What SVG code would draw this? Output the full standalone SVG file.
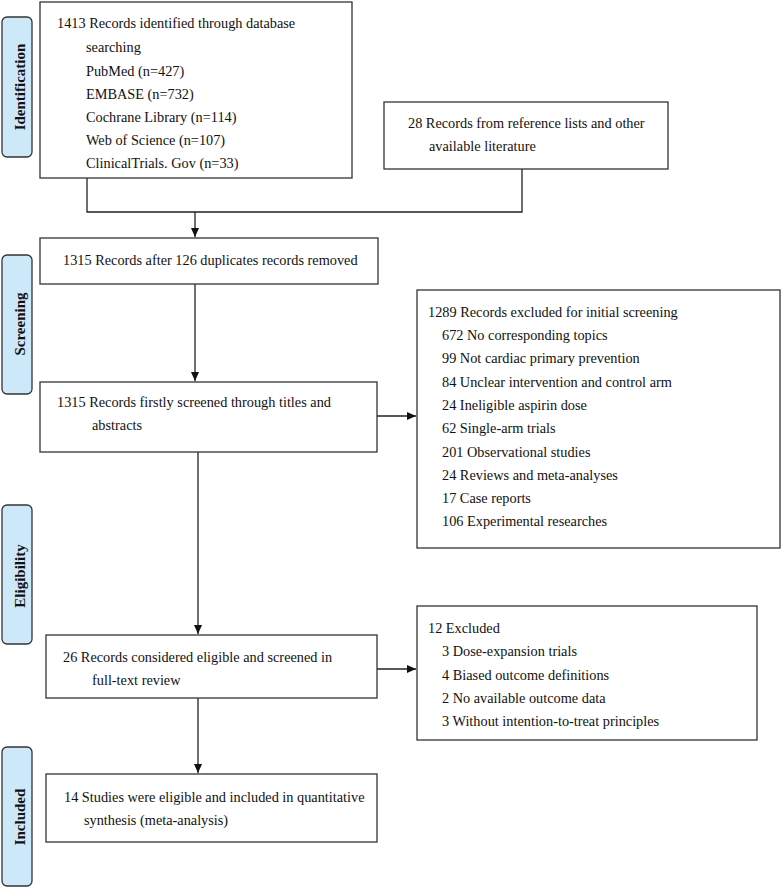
<svg xmlns="http://www.w3.org/2000/svg" width="782" height="888" viewBox="0 0 782 888">
<style>
.box{fill:#fff;stroke:#333;stroke-width:1.3}
.pill{fill:#cde8f8;stroke:#333;stroke-width:1.3}
text{font-family:'Liberation Serif','Times New Roman','DejaVu Serif',serif;font-size:14.3px;fill:#111}
.lab{font-weight:bold;font-size:15px}
.ln{fill:none;stroke:#222;stroke-width:1.3}
</style>
<defs>
<marker id="ah" markerWidth="10" markerHeight="8" refX="9" refY="4" orient="auto" markerUnits="userSpaceOnUse">
<path d="M0,0 L9,4 L0,8 Z" fill="#111"/>
</marker>
</defs>
<rect width="782" height="888" fill="#fff"/>
<g id="stage-identification"><rect class="pill" x="2" y="17" width="30" height="140" rx="5"/><text class="lab" transform="translate(25,87) rotate(-90)" text-anchor="middle">Identification</text></g>
<g id="stage-screening"><rect class="pill" x="2" y="255" width="30" height="139" rx="5"/><text class="lab" transform="translate(25,324) rotate(-90)" text-anchor="middle">Screening</text></g>
<g id="stage-eligibility"><rect class="pill" x="2" y="505" width="30" height="139" rx="5"/><text class="lab" transform="translate(25,576) rotate(-90)" text-anchor="middle">Eligibility</text></g>
<g id="stage-included"><rect class="pill" x="2" y="747" width="30" height="139" rx="5"/><text class="lab" transform="translate(25,817) rotate(-90)" text-anchor="middle">Included</text></g>

<g id="connectors">
<path class="ln" d="M87,178 V212 H522 V169"/>
<path class="ln" d="M195,212 V237" marker-end="url(#ah)"/>
<path class="ln" d="M195,284 V381" marker-end="url(#ah)"/>
<path class="ln" d="M377,416 H416" marker-end="url(#ah)"/>
<path class="ln" d="M198,452 V634" marker-end="url(#ah)"/>
<path class="ln" d="M377,669 H416" marker-end="url(#ah)"/>
<path class="ln" d="M198,698 V773" marker-end="url(#ah)"/>
</g>

<g id="n-database">
<rect class="box" x="40" y="2" width="312" height="176"/>
<text x="57" y="28">1413 Records identified through database</text>
<text x="86" y="52">searching</text>
<text x="86" y="76">PubMed (n=427)</text>
<text x="86" y="99">EMBASE (n=732)</text>
<text x="86" y="122">Cochrane Library (n=114)</text>
<text x="86" y="145">Web of Science (n=107)</text>
<text x="86" y="168">ClinicalTrials. Gov (n=33)</text>
</g>
<g id="n-reference">
<rect class="box" x="384" y="102" width="284" height="67"/>
<text x="408" y="128">28 Records from reference lists and other</text>
<text x="429" y="151">available literature</text>
</g>
<g id="n-dedup">
<rect class="box" x="40" y="238" width="338" height="46"/>
<text x="63" y="265">1315 Records after 126 duplicates records removed</text>
</g>
<g id="n-screened">
<rect class="box" x="40" y="382" width="337" height="70"/>
<text x="57" y="407">1315 Records firstly screened through titles and</text>
<text x="92" y="430">abstracts</text>
</g>
<g id="n-excluded1">
<rect class="box" x="417" y="290" width="363" height="258"/>
<text x="428" y="317">1289 Records excluded for initial screening</text>
<text x="442" y="340">672 No corresponding topics</text>
<text x="442" y="363">99 Not cardiac primary prevention</text>
<text x="442" y="387">84 Unclear intervention and control arm</text>
<text x="442" y="410">24 Ineligible aspirin dose</text>
<text x="442" y="433">62 Single-arm trials</text>
<text x="442" y="457">201 Observational studies</text>
<text x="442" y="480">24 Reviews and meta-analyses</text>
<text x="442" y="503">17 Case reports</text>
<text x="442" y="526">106 Experimental researches</text>
</g>
<g id="n-fulltext">
<rect class="box" x="46" y="635" width="331" height="63"/>
<text x="63" y="662">26 Records considered eligible and screened in</text>
<text x="92" y="685">full-text review</text>
</g>
<g id="n-excluded2">
<rect class="box" x="417" y="606" width="340" height="134"/>
<text x="428" y="633">12 Excluded</text>
<text x="442" y="656">3 Dose-expansion trials</text>
<text x="442" y="680">4 Biased outcome definitions</text>
<text x="442" y="703">2 No available outcome data</text>
<text x="442" y="726">3 Without intention-to-treat principles</text>
</g>
<g id="n-included">
<rect class="box" x="46" y="774" width="331" height="68"/>
<text x="64" y="802">14 Studies were eligible and included in quantitative</text>
<text x="84" y="825">synthesis (meta-analysis)</text>
</g>
</svg>
